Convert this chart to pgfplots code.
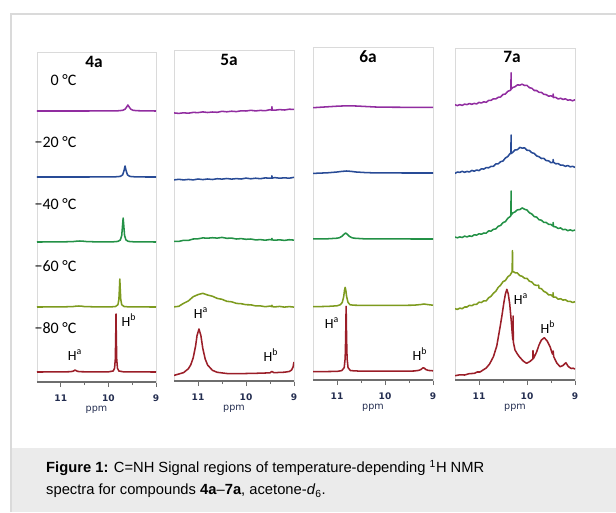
\documentclass[border=0pt]{standalone}
\usepackage{pgfplots}
\pgfplotsset{compat=1.18}
\usepackage{fontspec}
\setmainfont{Carlito}
\newfontfamily\capfont{Liberation Sans}
\newfontfamily\tickfont{DejaVu Sans}
\definecolor{cA}{RGB}{145,45,160}
\definecolor{cB}{RGB}{40,75,150}
\definecolor{cC}{RGB}{35,145,70}
\definecolor{cD}{RGB}{125,155,30}
\definecolor{cE}{RGB}{155,30,40}
\definecolor{framegrey}{RGB}{218,218,218}
\definecolor{axisgrey}{RGB}{110,110,110}
\definecolor{tickcol}{RGB}{35,45,80}
\definecolor{capgrey}{RGB}{235,235,235}
\pgfplotsset{panel/.style={
  scale only axis, anchor=south west, x dir=reverse,
  xmin=9, xmax=11.5, ymin=0,
  axis line style={draw=framegrey, line width=0.7pt},
  ytick=\empty, xtick={9,10,11}, xticklabels={9,10,11},
  minor xtick={9.5,10.5},
  tick align=outside, xtick pos=bottom,
  major tick length=3.8pt, minor tick length=2.3pt,
  every tick/.style={axisgrey, line width=0.7pt},
  xticklabel style={font=\tickfont\bfseries\fontsize{6.8}{8}\selectfont, text=tickcol, anchor=center, yshift=-8pt},
  xlabel={ppm},
  xlabel style={font=\tickfont\fontsize{7.2}{8}\selectfont, text=tickcol, at={(axis description cs:0.5,0)}, anchor=center, yshift=-20.5pt},
  every axis plot/.append style={line width=1.15pt, line join=round},
  after end axis/.code={\draw[axisgrey, line width=1.1pt] (rel axis cs:0,0) -- (rel axis cs:1,0);}
}}
\begin{document}
\begin{tikzpicture}[x=0.75pt,y=0.75pt]
\path[use as bounding box] (0,0) rectangle (616,512);
\fill[white] (0,0) rectangle (616,512);
\fill[capgrey] (11,0) rectangle (616,64);
\draw[framegrey, line width=1pt] (11,0) -- (11,498) -- (616,498);

% ---------------- 4a
\begin{axis}[panel, at={(27.75pt,97.5pt)}, width=89.25pt, height=247.5pt, ymax=330]
\addplot[cA] coordinates {(11.5,271) (11.0,271) (10.5,271) (10.0,271.1) (9.8,271.2) (9.7,271.7) (9.65,272.8) (9.62,274.8) (9.59,277) (9.56,274.8) (9.53,272.8) (9.48,271.7) (9.4,271.3) (9.2,271.1) (9.0,271)};
\addplot[cB] coordinates {(11.5,205) (10.5,205) (10.0,205.1) (9.85,205.2) (9.75,205.6) (9.70,207.2) (9.67,211.7) (9.65,216) (9.63,211.7) (9.60,207.2) (9.55,205.6) (9.45,205.2) (9.2,205) (9.0,205)};
\addplot[cC] coordinates {(11.5,140) (11.0,140.1) (10.75,140.4) (10.65,140.9) (10.6,141) (10.55,140.9) (10.45,140.4) (10.2,140.1) (9.9,140.2) (9.8,140.6) (9.75,142.0) (9.72,146.4) (9.70,158.3) (9.69,164) (9.68,158.3) (9.66,146.4) (9.63,142.0) (9.58,140.6) (9.47,140.2) (9.0,140)};
\addplot[cD] coordinates {(11.5,75) (11.0,75.1) (10.75,75.4) (10.67,75.9) (10.62,76) (10.57,75.9) (10.5,75.4) (10.2,75.1) (9.95,75.1) (9.85,75.5) (9.80,77.3) (9.78,82.4) (9.77,91.6) (9.76,103) (9.75,91.6) (9.74,82.4) (9.72,77.3) (9.67,75.5) (9.57,75.1) (9.0,75)};
\addplot[cE] coordinates {(11.5,10) (11.0,10.1) (10.8,10.3) (10.75,10.7) (10.72,11.4) (10.70,12) (10.68,11.4) (10.65,10.7) (10.6,10.3) (10.3,10.1) (10.0,10.15) (9.9,11.0) (9.87,13.9) (9.855,22.9) (9.847,42.8) (9.84,68) (9.833,42.8) (9.825,22.9) (9.81,13.9) (9.78,11.0) (9.68,10.15) (9.0,10)};
\end{axis}

% ---------------- 5a
\begin{axis}[panel, at={(130.5pt,98.25pt)}, width=90pt, height=248.25pt, ymax=331]
\addplot[cA] coordinates {(11.5,268.1) (11.4,267.6) (11.3,268.2) (11.2,267.8) (11.1,268.6) (11.0,268.4) (10.9,269.1) (10.8,268.5) (10.7,269.0) (10.6,268.7) (10.5,269.7) (10.4,269.2) (10.3,269.8) (10.2,269.4) (10.1,270.2) (10.0,270.0) (9.9,270.7) (9.8,270.1) (9.7,270.6) (9.6,270.3) (9.5,271.3) (9.465,270.9) (9.46,274.3) (9.455,270.9) (9.4,270.8) (9.3,271.4) (9.2,271.0) (9.1,271.8) (9.0,271.6)};
\addplot[cB] coordinates {(11.5,201.1) (11.4,201.7) (11.3,201.1) (11.2,201.6) (11.1,201.1) (11.0,202.0) (10.9,201.4) (10.8,202.0) (10.7,201.5) (10.6,202.3) (10.5,201.9) (10.4,202.5) (10.3,201.9) (10.2,202.4) (10.1,202.0) (10.0,202.9) (9.9,202.2) (9.8,202.8) (9.7,202.3) (9.6,203.1) (9.5,202.8) (9.465,202.9) (9.46,205.2) (9.455,202.9) (9.4,203.4) (9.3,202.8) (9.2,203.2) (9.1,202.8) (9.0,203.7)};
\addplot[cC] coordinates {(11.5,139.7) (11.4,139.6) (11.3,140.7) (11.2,140.6) (11.1,142.0) (11.0,142.2) (10.9,143.1) (10.8,142.8) (10.7,143.3) (10.6,142.9) (10.5,143.6) (10.4,142.7) (10.3,142.9) (10.2,142.0) (10.1,142.4) (10.0,141.7) (9.9,142.0) (9.8,141.1) (9.7,141.4) (9.6,140.8) (9.5,141.5) (9.465,141.1) (9.46,142.6) (9.455,141.1) (9.4,140.8) (9.3,141.2) (9.2,140.6) (9.1,141.3) (9.0,140.9)};
\addplot[cD] coordinates {(11.5,74.1) (11.4,74.7) (11.3,77.7) (11.2,80.1) (11.1,84.3) (11.0,86.4) (10.9,87.7) (10.8,86.0) (10.7,84.8) (10.6,82.6) (10.5,81.7) (10.4,79.7) (10.3,79.2) (10.2,77.6) (10.1,77.3) (10.0,76.3) (9.9,76.2) (9.8,75.1) (9.7,75.1) (9.6,74.3) (9.5,74.9) (9.465,74.5) (9.46,75.8) (9.455,74.4) (9.4,74.1) (9.3,74.6) (9.2,73.9) (9.1,74.4) (9.0,73.9)};
\addplot[cE] coordinates {(11.5,5.6) (11.3,8.4) (11.2,12.3) (11.15,16.3) (11.1,23.2) (11.05,35.1) (11.02,45.5) (10.98,52) (10.94,45.5) (10.90,32.6) (10.85,22.0) (10.80,16.0) (10.70,10.7) (10.60,8.7) (10.4,7.5) (10.2,7.3) (10.0,7.5) (9.8,7.7) (9.6,8.0) (9.5,8.2) (9.46,9.6) (9.42,8.3) (9.3,8.6) (9.2,8.8) (9.1,9.5) (9.05,11) (9.02,14) (9.0,19)};
\end{axis}

% ---------------- 6a
\begin{axis}[panel, at={(234.75pt,99pt)}, width=90pt, height=249.75pt, ymax=333]
\addplot[cA] coordinates {(11.5,272.3) (11.2,273.2) (11.0,273.8) (10.8,274.2) (10.6,274.0) (10.4,273.5) (10.2,273.0) (10.0,272.8) (9.5,272.7) (9.0,272.7)};
\addplot[cB] coordinates {(11.5,206.6) (11.2,207.2) (11.0,208.0) (10.9,208.6) (10.8,209.0) (10.7,208.6) (10.6,208.0) (10.4,207.4) (10.2,207.1) (9.5,207) (9.0,207)};
\addplot[cC] coordinates {(11.5,141.1) (11.2,141.2) (11.0,141.8) (10.95,142.3) (10.9,143.6) (10.86,145.5) (10.82,147) (10.78,145.5) (10.74,143.6) (10.69,142.3) (10.64,141.8) (10.44,141.2) (10.0,141.05) (9.0,141)};
\addplot[cD] coordinates {(11.5,73.3) (11.2,73.6) (11.0,74.2) (10.93,75.3) (10.89,77.6) (10.86,83.5) (10.845,89.4) (10.83,92.7) (10.815,89.4) (10.80,83.5) (10.77,77.6) (10.73,75.3) (10.66,74.8) (10.4,74.6) (9.8,74.6) (9.4,74.8) (9.25,75.5) (9.19,76) (9.12,75.5) (9.0,74.8)};
\addplot[cE] coordinates {(11.5,8.3) (11.0,8.6) (10.9,9.4) (10.85,12.4) (10.83,21.6) (10.82,41) (10.81,73.7) (10.80,41) (10.79,21.6) (10.77,12.4) (10.72,9.4) (10.5,8.8) (10.0,8.8) (9.4,9.0) (9.3,9.6) (9.25,10.5) (9.22,11.8) (9.20,12.3) (9.18,11.8) (9.15,10.5) (9.1,9.6) (9.0,9.2)};
\end{axis}

% ---------------- 7a
\begin{axis}[panel, at={(341.25pt,99pt)}, width=90pt, height=249pt, ymax=332]
\addplot[cA] coordinates {(11.5,275.3) (11.45,274.4) (11.4,275.4) (11.35,274.6) (11.3,275.9) (11.25,275.4) (11.2,276.5) (11.15,275.7) (11.1,276.6) (11.05,276.1) (11.0,277.6) (10.95,277.0) (10.9,278.2) (10.85,277.7) (10.8,279.6) (10.75,279.6) (10.7,281.2) (10.65,281.1) (10.6,282.7) (10.55,283.0) (10.5,285.6) (10.45,286.0) (10.4,288.7) (10.35,289.6) (10.335,290.4) (10.332,307.3) (10.329,290.8) (10.3,292.4) (10.25,293.3) (10.2,295.1) (10.15,294.9) (10.1,295.8) (10.05,294.5) (10.0,294.6) (9.95,292.3) (9.9,291.8) (9.85,289.5) (9.8,289.5) (9.75,287.7) (9.7,287.7) (9.65,285.7) (9.6,285.4) (9.55,283.8) (9.5,284.2) (9.46,283.2) (9.455,286) (9.45,282.5) (9.4,282.6) (9.35,281.0) (9.3,281.8) (9.25,280.6) (9.2,281.2) (9.15,279.8) (9.1,280.2) (9.05,279.2) (9.0,280.3)};
\addplot[cB] coordinates {(11.5,206.6) (11.45,208.0) (11.4,207.6) (11.35,208.7) (11.3,207.7) (11.25,208.6) (11.2,208.0) (11.15,209.6) (11.1,208.8) (11.05,210.0) (11.0,209.4) (10.95,211.2) (10.9,210.9) (10.85,212.4) (10.8,212.2) (10.75,213.6) (10.7,213.7) (10.65,216.1) (10.6,216.2) (10.55,218.3) (10.5,219.0) (10.45,222.0) (10.4,223.5) (10.35,226.7) (10.335,226.3) (10.332,245) (10.329,226.6) (10.3,227.5) (10.25,230.1) (10.2,230.3) (10.15,232.6) (10.1,231.9) (10.05,232.1) (10.0,229.8) (9.95,229.5) (9.9,227.3) (9.85,226.6) (9.8,224.1) (9.75,223.3) (9.7,221.5) (9.65,221.6) (9.6,219.4) (9.55,219.2) (9.5,217.3) (9.46,217.6) (9.455,220.5) (9.45,217.8) (9.4,216.2) (9.35,216.4) (9.3,214.8) (9.25,214.8) (9.2,213.7) (9.15,214.5) (9.1,213.2) (9.05,213.7) (9.0,212.6)};
\addplot[cC] coordinates {(11.5,143.0) (11.45,142.2) (11.4,143.1) (11.35,142.5) (11.3,143.9) (11.25,143.1) (11.2,144.1) (11.15,143.6) (11.1,145.2) (11.05,144.9) (11.0,146.2) (10.95,145.8) (10.9,147.0) (10.85,146.9) (10.8,149.1) (10.75,148.9) (10.7,150.7) (10.65,151.1) (10.6,153.7) (10.55,154.6) (10.5,157.4) (10.45,158.4) (10.4,161.7) (10.35,163.5) (10.335,164.5) (10.332,189) (10.329,165) (10.3,167.0) (10.25,168.1) (10.2,170.2) (10.15,170.4) (10.1,172.1) (10.05,170.7) (10.0,170.0) (9.95,167.2) (9.9,166.0) (9.85,163.4) (9.8,162.9) (9.75,160.3) (9.7,159.8) (9.65,157.6) (9.6,157.5) (9.55,155.7) (9.5,155.5) (9.46,154.0) (9.455,157.5) (9.45,153.5) (9.4,153.1) (9.35,151.5) (9.3,152.1) (9.25,150.3) (9.2,150.7) (9.15,149.3) (9.1,150.2) (9.05,149.2) (9.0,150.0)};
\addplot[cD] coordinates {(11.5,71.3) (11.45,70.6) (11.4,71.9) (11.35,71.3) (11.3,73.0) (11.25,73.0) (11.2,74.7) (11.15,74.3) (11.1,75.7) (11.05,75.7) (11.0,77.8) (10.95,77.5) (10.9,79.2) (10.85,79.1) (10.8,82.2) (10.75,83.7) (10.7,86.7) (10.65,88.8) (10.6,92.6) (10.55,94.9) (10.5,98.3) (10.45,99.5) (10.4,103.2) (10.35,105.0) (10.31,108.3) (10.303,129.3) (10.298,108.4) (10.28,108.2) (10.25,107.3) (10.2,107.0) (10.15,104.4) (10.1,103.7) (10.05,101.7) (10.0,101.6) (9.95,98.8) (9.9,98.0) (9.85,95.3) (9.8,94.6) (9.757,94.8) (9.75,91.9) (9.7,91.3) (9.65,88.7) (9.6,87.5) (9.55,85.1) (9.5,85.1) (9.46,83.3) (9.457,87.3) (9.45,82.8) (9.4,82.9) (9.35,80.8) (9.3,81.3) (9.25,79.9) (9.2,80.3) (9.15,78.6) (9.1,78.7) (9.05,77.5) (9.0,78.3)};
\addplot[cE] coordinates {(11.5,4.3) (11.4,5.2) (11.3,5.0) (11.2,6.4) (11.1,6.6) (11.04,8.0) (10.98,8.0) (10.85,12) (10.78,16) (10.70,23.3) (10.63,34) (10.56,53.3) (10.52,65) (10.48,78) (10.45,86) (10.42,90.7) (10.39,86) (10.36,76) (10.33,60) (10.31,48) (10.295,40) (10.29,64) (10.285,38) (10.25,30) (10.20,26) (10.16,23.3) (10.08,19) (10.01,16.7) (9.94,18.5) (9.88,21) (9.875,29.3) (9.865,21.5) (9.80,28) (9.75,35) (9.70,40) (9.64,42.3) (9.58,39) (9.52,33.3) (9.47,26) (9.455,29) (9.445,23.5) (9.38,17) (9.31,13.3) (9.25,14.5) (9.19,17.3) (9.14,13.5) (9.08,11.5) (9.04,11.8) (9.0,11)};
\end{axis}

% titles
\begin{scope}[every node/.style={font=\bfseries\fontsize{13}{14}\selectfont}]
\node at (94,450) {4a};
\node at (229,452) {5a};
\node at (368,455) {6a};
\node at (512,455) {7a};
\end{scope}
% temperatures
\begin{scope}[every node/.style={anchor=east, font=\fontsize{12}{13}\selectfont}]
\node at (81,432) {0 °C};
\node at (81,370) {−20 °C};
\node at (81,308) {−40 °C};
\node at (81,246) {−60 °C};
\node at (81,184) {−80 °C};
\end{scope}
% H labels
\begin{scope}[every node/.style={font=\fontsize{10.5}{12}\selectfont}]
\node at (129,192) {H\textsuperscript{b}};
\node at (75,157) {H\textsuperscript{a}};
\node at (201,199) {H\textsuperscript{a}};
\node at (271,157) {H\textsuperscript{b}};
\node at (332,189) {H\textsuperscript{a}};
\node at (420,158) {H\textsuperscript{b}};
\node at (521,213) {H\textsuperscript{a}};
\node at (548,185) {H\textsuperscript{b}};
\end{scope}
% caption
\node[anchor=west, align=left, font=\capfont\fontsize{11.05}{16.8}\selectfont] at (41.5,33) {\textbf{Figure 1:} C=NH Signal regions of temperature-depending \textsuperscript{1}H NMR\\spectra for compounds \textbf{4a}–\textbf{7a}, acetone-\textit{d}\textsubscript{6}.};
\end{tikzpicture}
\end{document}
